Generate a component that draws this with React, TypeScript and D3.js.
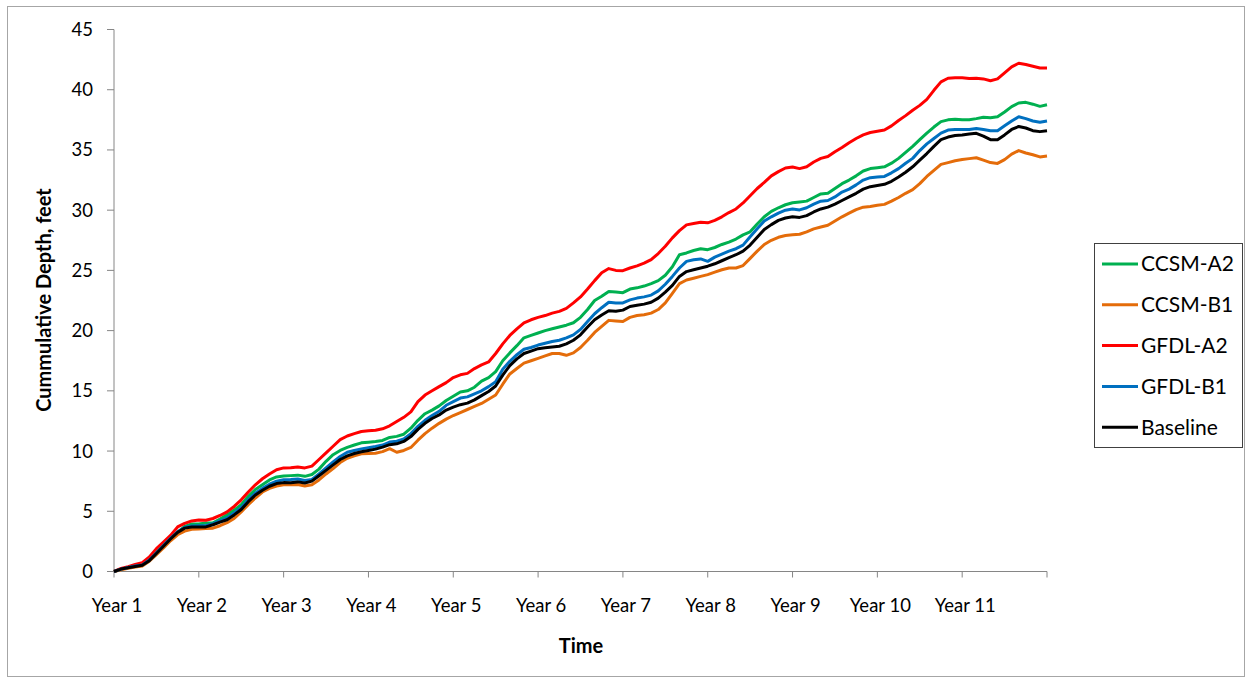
import { line, range, scaleLinear } from "d3";

const width = 1249;
const height = 678;
const plotLeft = 114;
const plotRight = 1047;
const plotTop = 29.5;
const plotBottom = 571.5;

// monthly cumulative depth, 11 years (133 points incl. start)
const months = range(0, 133);
const yearLabels = [
  "Year 1", "Year 2", "Year 3", "Year 4", "Year 5", "Year 6",
  "Year 7", "Year 8", "Year 9", "Year 10", "Year 11",
];
const yTicks = [0, 5, 10, 15, 20, 25, 30, 35, 40, 45];

const ccsmA2 = [
  0, 0.2, 0.33, 0.45, 0.57, 1.0, 1.6, 2.25, 2.8, 3.25,
  3.75, 3.95, 3.95, 4.02, 4.05, 4.35, 4.7, 5.1, 5.55, 6.25,
  6.8, 7.2, 7.6, 7.85, 7.93, 7.96, 8.0, 7.9, 8.05, 8.5,
  9.15, 9.7, 10.05, 10.3, 10.5, 10.68, 10.74, 10.8, 10.88, 11.13,
  11.22, 11.4, 11.9, 12.55, 13.1, 13.4, 13.75, 14.2, 14.55, 14.9,
  15.0, 15.3, 15.8, 16.1, 16.6, 17.5, 18.15, 18.75, 19.4, 19.6,
  19.8, 20.0, 20.15, 20.3, 20.45, 20.65, 21.1, 21.75, 22.5, 22.85,
  23.25, 23.2, 23.15, 23.45, 23.55, 23.7, 23.9, 24.15, 24.6, 25.3,
  26.3, 26.45, 26.65, 26.8, 26.72, 26.9, 27.15, 27.35, 27.6, 27.95,
  28.2, 28.85, 29.45, 29.9, 30.2, 30.45, 30.62, 30.68, 30.75, 31.05,
  31.35, 31.4, 31.8, 32.2, 32.5, 32.85, 33.25, 33.45, 33.52, 33.6,
  33.9, 34.3, 34.8, 35.3, 35.85, 36.4, 36.9, 37.35, 37.5, 37.55,
  37.5, 37.5, 37.6, 37.72, 37.68, 37.75, 38.15, 38.6, 38.9, 38.95,
  38.8, 38.62, 38.75,
];

const ccsmB1 = [
  0, 0.15, 0.26, 0.37, 0.46, 0.85, 1.4, 1.95, 2.55, 3.05,
  3.35, 3.5, 3.53, 3.56, 3.6, 3.8, 4.05, 4.4, 4.95, 5.55,
  6.1, 6.6, 6.9, 7.1, 7.21, 7.21, 7.22, 7.1, 7.2, 7.6,
  8.1, 8.55, 9.05, 9.4, 9.6, 9.77, 9.8, 9.82, 9.95, 10.2,
  9.9, 10.05, 10.3, 10.9, 11.45, 11.9, 12.3, 12.65, 12.95, 13.2,
  13.45, 13.7, 13.95, 14.3, 14.65, 15.55, 16.4, 16.85, 17.3, 17.5,
  17.7, 17.9, 18.1, 18.1, 17.95, 18.15, 18.6, 19.2, 19.85, 20.35,
  20.85, 20.8, 20.75, 21.1, 21.25, 21.32, 21.45, 21.75, 22.3, 23.1,
  23.9, 24.2, 24.35, 24.5, 24.65, 24.85, 25.05, 25.2, 25.2, 25.4,
  26.0, 26.6, 27.15, 27.5, 27.75, 27.9, 27.95, 28.0, 28.2, 28.45,
  28.6, 28.75, 29.1, 29.45, 29.75, 30.05, 30.25, 30.3, 30.4, 30.48,
  30.75, 31.05, 31.4, 31.7, 32.2, 32.8, 33.3, 33.8, 33.95, 34.1,
  34.2, 34.28, 34.35, 34.15, 33.95, 33.88, 34.2, 34.65, 34.95, 34.75,
  34.6, 34.42, 34.5,
];

const gfdlA2 = [
  0, 0.25, 0.4, 0.58, 0.74, 1.2, 1.9, 2.45, 3.0, 3.7,
  4.0, 4.2, 4.28, 4.26, 4.4, 4.65, 4.95, 5.4, 5.95, 6.6,
  7.2, 7.7, 8.1, 8.45, 8.6, 8.62, 8.68, 8.6, 8.75, 9.3,
  9.85, 10.4, 10.95, 11.25, 11.45, 11.62, 11.68, 11.72, 11.85, 12.1,
  12.45, 12.8, 13.25, 14.1, 14.65, 15.0, 15.35, 15.68, 16.1, 16.33,
  16.45, 16.85, 17.15, 17.4, 18.1, 18.9, 19.6, 20.15, 20.65, 20.9,
  21.1, 21.25, 21.45, 21.6, 21.85, 22.3, 22.8, 23.45, 24.15, 24.8,
  25.15, 25.0, 24.98, 25.2, 25.38, 25.6, 25.9, 26.4, 27.0, 27.7,
  28.3, 28.78, 28.9, 29.0, 28.95, 29.15, 29.45, 29.8, 30.1, 30.6,
  31.2, 31.8, 32.3, 32.85, 33.2, 33.5, 33.58, 33.45, 33.6, 34.0,
  34.3, 34.45, 34.85, 35.2, 35.6, 35.95, 36.25, 36.45, 36.55, 36.65,
  37.0, 37.45, 37.85, 38.3, 38.7, 39.2, 39.95, 40.65, 40.95, 41.0,
  41.0, 40.93, 40.95, 40.9, 40.75, 40.9, 41.4, 41.9, 42.2, 42.1,
  41.95, 41.8, 41.8,
];

const gfdlB1 = [
  0, 0.2, 0.33, 0.45, 0.55, 0.95, 1.55, 2.15, 2.75, 3.3,
  3.65, 3.78, 3.8, 3.8, 3.98, 4.2, 4.45, 4.85, 5.3, 5.95,
  6.5, 6.9, 7.25, 7.5, 7.62, 7.64, 7.68, 7.55, 7.65, 8.1,
  8.6, 9.1, 9.55, 9.9, 10.05, 10.18, 10.28, 10.38, 10.5, 10.75,
  10.82, 11.0, 11.45, 12.05, 12.55, 12.95, 13.3, 13.8, 14.1, 14.4,
  14.5, 14.75, 15.0, 15.35, 15.75, 16.8, 17.45, 18.0, 18.45, 18.6,
  18.8, 18.95, 19.1, 19.2, 19.4, 19.65, 20.1, 20.75, 21.4, 21.9,
  22.35, 22.3, 22.3, 22.55, 22.7, 22.8, 22.95, 23.3, 23.85, 24.5,
  25.2, 25.75, 25.88, 25.95, 25.75, 26.1, 26.35, 26.6, 26.8, 27.1,
  27.8, 28.45, 29.1, 29.45, 29.75, 30.0, 30.1, 30.02, 30.2, 30.5,
  30.75, 30.8, 31.1, 31.5, 31.75, 32.1, 32.5, 32.7, 32.75, 32.8,
  33.1, 33.45, 33.9, 34.3, 34.95, 35.5, 35.95, 36.4, 36.65, 36.7,
  36.7, 36.7, 36.78, 36.7, 36.6, 36.6, 37.0, 37.4, 37.75, 37.6,
  37.4, 37.3, 37.4,
];

const baseline = [
  0, 0.2, 0.31, 0.42, 0.52, 0.9, 1.5, 2.1, 2.7, 3.25,
  3.6, 3.7, 3.7, 3.7, 3.88, 4.1, 4.3, 4.7, 5.15, 5.8,
  6.35, 6.75, 7.08, 7.3, 7.38, 7.36, 7.44, 7.35, 7.5, 7.95,
  8.4, 8.85, 9.3, 9.6, 9.8, 9.94, 10.05, 10.16, 10.33, 10.53,
  10.6, 10.8, 11.2, 11.8, 12.3, 12.7, 13.0, 13.4, 13.65, 13.85,
  13.98, 14.25, 14.6, 14.95, 15.4, 16.3, 17.1, 17.65, 18.1, 18.3,
  18.5, 18.58, 18.64, 18.7, 18.9, 19.2, 19.65, 20.3, 20.9, 21.3,
  21.65, 21.6, 21.7, 22.0, 22.1, 22.2, 22.35, 22.7, 23.2, 23.75,
  24.5, 24.9, 25.05, 25.2, 25.35, 25.55, 25.8, 26.05, 26.3, 26.6,
  27.1, 27.75, 28.4, 28.8, 29.15, 29.35, 29.45, 29.4, 29.55, 29.85,
  30.1, 30.25, 30.5, 30.8, 31.1, 31.4, 31.75, 31.95, 32.05, 32.15,
  32.4, 32.75, 33.15, 33.6, 34.15, 34.7, 35.3, 35.85, 36.07, 36.2,
  36.25, 36.32, 36.38, 36.15, 35.85, 35.85, 36.25, 36.7, 36.95, 36.82,
  36.6, 36.52, 36.6,
];

const seriesNames = ["CCSM-A2", "CCSM-B1", "GFDL-A2", "GFDL-B1", "Baseline"];
const seriesValues = [ccsmA2, ccsmB1, gfdlA2, gfdlB1, baseline];
const seriesColors = ["#00b050", "#e46c0a", "#ff0000", "#0070c0", "#000000"];

const font = "Lato, 'Noto Sans', sans-serif";
const axisColor = "#868686";

function App() {
  const x = scaleLinear().domain([0, 132]).range([plotLeft, plotRight]);
  const y = scaleLinear().domain([0, 45]).range([plotBottom, plotTop]);

  const path = line<number>()
    .x((_, i) => x(months[i]))
    .y((d) => y(d));

  const xTicks = range(0, 133, 12);

  return (
    <svg
      width={width}
      height={height}
      style={{ position: "absolute", left: 0, top: 0, background: "#fff" }}
      fontFamily={font}
    >
      <rect x={7.5} y={6.5} width={1237} height={670} fill="#fff" stroke="#a6a6a6" />

      {/* y axis */}
      <line x1={plotLeft} x2={plotLeft} y1={plotTop} y2={plotBottom} stroke={axisColor} />
      {yTicks.map((t) => (
        <g key={t}>
          <line x1={plotLeft - 7} x2={plotLeft} y1={y(t)} y2={y(t)} stroke={axisColor} />
          <text x={93} y={y(t)} dy="0.35em" textAnchor="end" fontSize={18.5}>
            {t}
          </text>
        </g>
      ))}

      {/* x axis */}
      <line x1={plotLeft} x2={plotRight} y1={plotBottom} y2={plotBottom} stroke={axisColor} />
      {xTicks.map((t) => (
        <line key={t} x1={x(t)} x2={x(t)} y1={plotBottom} y2={plotBottom + 6} stroke={axisColor} />
      ))}
      {yearLabels.map((lab, i) => (
        <text key={lab} x={x(i * 12) + 3} y={612} textAnchor="middle" fontSize={18.5}>
          {lab}
        </text>
      ))}

      <text x={581} y={653} textAnchor="middle" fontSize={20} fontWeight="bold">
        Time
      </text>
      <text
        transform="translate(51,300) rotate(-90)"
        textAnchor="middle"
        fontSize={20}
        fontWeight="bold"
      >
        Cummulative Depth, feet
      </text>

      {seriesValues.map((vals, i) => (
        <path
          key={seriesNames[i]}
          d={path(vals) || ""}
          fill="none"
          stroke={seriesColors[i]}
          strokeWidth={3}
          strokeLinejoin="round"
        />
      ))}

      {/* legend */}
      <rect x={1094.5} y={243.5} width={148} height={204} fill="#fff" stroke="#404040" />
      {seriesNames.map((name, i) => (
        <g key={name} transform={`translate(1102, ${264 + i * 40.8})`}>
          <line x1={0} x2={36} y1={0} y2={0} stroke={seriesColors[i]} strokeWidth={3} />
          <text x={39} y={0} dy="0.35em" fontSize={21}>
            {name}
          </text>
        </g>
      ))}
    </svg>
  );
}

export default App;
